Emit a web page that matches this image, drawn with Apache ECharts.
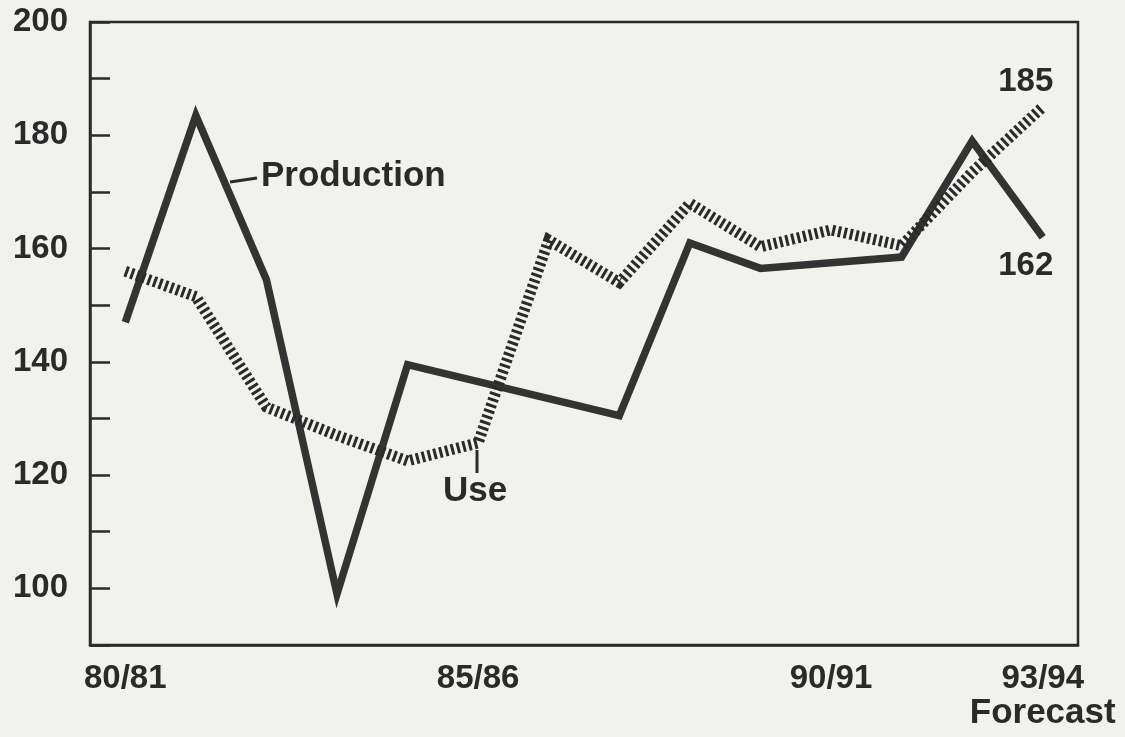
<!DOCTYPE html>
<html>
<head>
<meta charset="utf-8">
<script src="https://cdn.jsdelivr.net/npm/echarts@6.0.0/dist/echarts.min.js"></script>
<style>
html, body { margin: 0; padding: 0; background: #f1f1ee; }
#main { width: 1125px; height: 737px; }
</style>
</head>
<body>
<div id="main"></div>
<script>
// seasons on the x axis, only some of them labelled
const seasons = ["80/81", "81/82", "82/83", "83/84", "84/85", "85/86", "86/87",
  "87/88", "88/89", "89/90", "90/91", "91/92", "92/93", "93/94"];
const shownLabels = {
  "80/81": "{d|80/81}",
  "85/86": "{d|85/86}",
  "90/91": "{d|90/91}",
  "93/94": "{d|93/94}\n{w|Forecast}"
};
const production = [147, 183.5, 154.5, 99, 139.5, 136.5, 133.5, 130.5, 161, 156.5, 157.5, 158.5, 179, 162];
const use = [156, 151.5, 132, 127, 122.5, 125.7, 161.5, 154, 168, 160.3, 163.3, 160.5, 173.5, 185];
const yLabelValues = [100, 120, 140, 160, 180, 200];

const font = "'Liberation Sans', Arial, Helvetica, sans-serif";
const ink = "#2a2a2a";

let myChart = echarts.init(document.getElementById("main"));
let lastIdx = seasons.length - 1;

function endLabel(pos, dist) {
  return {
    show: true,
    position: pos,
    distance: dist,
    offset: [-17, 0],
    fontSize: 33,
    lineHeight: 33,
    fontFamily: font,
    fontWeight: "bold",
    color: ink,
    formatter: (p) => (p.dataIndex === lastIdx ? String(p.value) : "")
  };
}

let option = {
  backgroundColor: "#f1f1ee",
  animation: false,
  textStyle: { fontFamily: font, fontWeight: "bold", color: ink },
  grid: {
    left: 90,
    right: 47,
    top: 22,
    bottom: 92,
    show: true,
    borderColor: ink,
    borderWidth: 2.5,
    backgroundColor: "transparent",
    outerBoundsMode: "none"
  },
  xAxis: {
    type: "category",
    data: seasons,
    boundaryGap: true,
    axisLine: { lineStyle: { color: ink, width: 2.5 } },
    axisTick: {
      alignWithLabel: true,
      inside: true,
      length: 20,
      interval: 0,
      lineStyle: { color: ink, width: 2.5 }
    },
    axisLabel: {
      interval: 0,
      margin: 17,
      fontFamily: font,
      fontWeight: "bold",
      color: ink,
      formatter: (v) => shownLabels[v] || "",
      rich: {
        d: { fontSize: 33, lineHeight: 34, fontWeight: "bold", fontFamily: font, color: ink },
        w: { fontSize: 35, lineHeight: 34, fontWeight: "bold", fontFamily: font, color: ink }
      }
    },
    splitLine: { show: false }
  },
  yAxis: {
    type: "value",
    min: 90,
    max: 200,
    interval: 10,
    axisLine: { show: true, lineStyle: { color: ink, width: 2.5 } },
    axisTick: { show: true, inside: true, length: 20, lineStyle: { color: ink, width: 2.5 } },
    axisLabel: {
      margin: 22,
      fontSize: 33,
      fontFamily: font,
      fontWeight: "bold",
      color: ink,
      formatter: (v) => (yLabelValues.indexOf(v) >= 0 ? String(v) : "")
    },
    splitLine: { show: false }
  },
  series: [
    {
      name: "Production",
      type: "line",
      data: production,
      symbol: "circle",
      symbolSize: 0.1,
      showSymbol: true,
      showAllSymbol: true,
      itemStyle: { color: "#333" },
      lineStyle: { color: "#333", width: 7.5, join: "miter", cap: "butt" },
      label: endLabel("bottom", 12),
      z: 2
    },
    {
      name: "Use",
      type: "line",
      data: use,
      symbol: "circle",
      symbolSize: 0.1,
      showSymbol: true,
      showAllSymbol: true,
      itemStyle: { color: "#2a2a2a" },
      lineStyle: { color: "#2a2a2a", width: 11, type: [3, 3], join: "miter", cap: "butt" },
      label: endLabel("top", 8),
      z: 3
    }
  ],
  graphic: [
    {
      type: "line",
      shape: { x1: 230, y1: 182, x2: 257, y2: 178 },
      style: { stroke: ink, lineWidth: 3 }
    },
    {
      type: "text",
      left: 261,
      top: 159,
      style: { text: "Production", font: "bold 35px " + font, fill: ink }
    },
    {
      type: "line",
      shape: { x1: 477, y1: 450, x2: 477, y2: 473 },
      style: { stroke: ink, lineWidth: 3 }
    },
    {
      type: "text",
      left: 443,
      top: 474,
      style: { text: "Use", font: "bold 35px " + font, fill: ink }
    }
  ]
};

myChart.setOption(option, true);
</script>
</body>
</html>
